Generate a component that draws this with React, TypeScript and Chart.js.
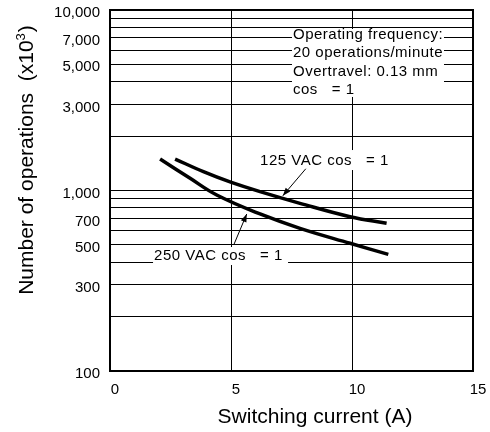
import React, { useEffect, useRef } from "react";
import { Chart, registerables } from "chart.js";

Chart.register(...registerables);

// ---- data ----
const current125 = [2.69, 3.86, 4.96, 6.2, 7.85, 9.92, 11.43];
const ops125 = [1494, 1271, 1115, 985, 849, 716, 658];
const current250 = [2.07, 3.31, 4.41, 6.2, 7.85, 9.92, 11.5];
const ops250 = [1494, 1168, 944, 741, 617, 510, 443];

const yGridValues = [100, 200, 300, 400, 500, 600, 700, 800, 900, 1000, 2000, 3000, 4000, 5000, 6000, 7000, 8000, 9000, 10000];
const yTickLabels = [100, 300, 500, 700, 1000, 3000, 5000, 7000, 10000];
const xTicks = [0, 5, 10, 15];

const noteLines = ["Operating frequency:", "20 operations/minute", "Overtravel: 0.13 mm", "cos   = 1"];
const label125 = "125 VAC cos   = 1";
const label250 = "250 VAC cos   = 1";
const xTitle = "Switching current (A)";
const yTitleMain = "Number of operations  (x10";
const yTitleSup = "3";
const yTitleEnd = ")";

// annotation anchors (data units)
const noteAt = { x: 7.52, y: 7850 };
const label125At = { x: 6.2, y: 1384 };
const arrow125Tip = { x: 7.14, y: 935 };
const label250At = { x: 1.82, y: 412 };
const arrow250Tip = { x: 5.65, y: 741 };

const FONT = "'Liberation Sans', Arial, Helvetica, sans-serif";

function arrow(ctx: CanvasRenderingContext2D, x1: number, y1: number, x2: number, y2: number) {
  ctx.beginPath();
  ctx.moveTo(x1, y1);
  ctx.lineTo(x2, y2);
  ctx.lineWidth = 1;
  ctx.strokeStyle = "#000";
  ctx.stroke();
  const ang = Math.atan2(y2 - y1, x2 - x1);
  const len = 8, w = 3;
  ctx.beginPath();
  ctx.moveTo(x2, y2);
  ctx.lineTo(x2 - len * Math.cos(ang) + w * Math.sin(ang), y2 - len * Math.sin(ang) - w * Math.cos(ang));
  ctx.lineTo(x2 - len * Math.cos(ang) - w * Math.sin(ang), y2 - len * Math.sin(ang) + w * Math.cos(ang));
  ctx.closePath();
  ctx.fillStyle = "#000";
  ctx.fill();
}

const overlay = {
  id: "overlay",
  afterDatasetsDraw(chart: any) {
    const { ctx, chartArea: a, scales } = chart;
    const xs = scales.x, ys = scales.y;
    ctx.save();
    // frame
    ctx.strokeStyle = "#000";
    ctx.lineWidth = 2;
    ctx.strokeRect(a.left, a.top, a.right - a.left, a.bottom - a.top);

    ctx.font = `15px ${FONT}`;
    (ctx as any).letterSpacing = "0.5px";
    ctx.textBaseline = "alphabetic";
    ctx.textAlign = "left";

    // note box
    const nx = xs.getPixelForValue(noteAt.x);
    const ny = ys.getPixelForValue(noteAt.y);
    ctx.fillStyle = "#fff";
    ctx.fillRect(nx, ny, 152, 68);
    ctx.fillStyle = "#000";
    noteLines.forEach((t, i) => ctx.fillText(t, nx + 1, ny + 10 + i * 18.4));

    // 125 label
    const lx1 = xs.getPixelForValue(label125At.x);
    const ly1 = ys.getPixelForValue(label125At.y);
    ctx.fillStyle = "#fff";
    ctx.fillRect(lx1 - 2, ly1 - 15, 130, 20);
    ctx.fillStyle = "#000";
    ctx.fillText(label125, lx1, ly1);
    const t1x = xs.getPixelForValue(arrow125Tip.x);
    const t1y = ys.getPixelForValue(arrow125Tip.y);
    arrow(ctx, t1x + 23, t1y - 27, t1x, t1y);

    // 250 label
    const lx2 = xs.getPixelForValue(label250At.x);
    const ly2 = ys.getPixelForValue(label250At.y);
    ctx.fillStyle = "#fff";
    ctx.fillRect(lx2 - 1, ly2 - 13, 135, 18);
    ctx.fillStyle = "#000";
    ctx.fillText(label250, lx2, ly2);
    const t2x = xs.getPixelForValue(arrow250Tip.x);
    const t2y = ys.getPixelForValue(arrow250Tip.y);
    arrow(ctx, t2x - 13, t2y + 31, t2x, t2y);

    // titles
    (ctx as any).letterSpacing = "0px";
    ctx.fillStyle = "#000";
    ctx.font = `21px ${FONT}`;
    ctx.textAlign = "center";
    ctx.fillText(xTitle, 315, 423);

    // y title rotated
    ctx.save();
    ctx.translate(33, 160);
    ctx.rotate(-Math.PI / 2);
    ctx.textAlign = "left";
    const big = `21px ${FONT}`;
    const small = `13px ${FONT}`;
    ctx.font = big;
    const w1 = ctx.measureText(yTitleMain).width;
    const w3 = ctx.measureText(yTitleEnd).width;
    ctx.font = small;
    const w2 = ctx.measureText(yTitleSup).width;
    const total = w1 + w2 + 1 + w3;
    let cx = -total / 2;
    ctx.font = big;
    ctx.fillText(yTitleMain, cx, 0);
    cx += w1;
    ctx.font = small;
    ctx.fillText(yTitleSup, cx, -8);
    cx += w2 + 1;
    ctx.font = big;
    ctx.fillText(yTitleEnd, cx, 0);
    ctx.restore();

    ctx.restore();
  },
};

export default function App() {
  const ref = useRef<HTMLCanvasElement | null>(null);
  useEffect(() => {
    if (!ref.current) return;
    const chart = new Chart(ref.current, {
      type: "line",
      data: {
        datasets: [
          {
            label: "125 VAC",
            data: current125.map((x, i) => ({ x, y: ops125[i] })),
            borderColor: "#000",
            borderWidth: 3.5,
            pointRadius: 0,
            fill: false,
            tension: 0.4,
          },
          {
            label: "250 VAC",
            data: current250.map((x, i) => ({ x, y: ops250[i] })),
            borderColor: "#000",
            borderWidth: 3.5,
            pointRadius: 0,
            fill: false,
            tension: 0.4,
          },
        ],
      },
      options: {
        animation: false,
        responsive: false,
        maintainAspectRatio: false,
        layout: { padding: { left: 0, right: 17, top: 10, bottom: 0 } },
        plugins: { legend: { display: false }, tooltip: { enabled: false } },
        scales: {
          x: {
            type: "linear",
            min: 0,
            max: 15,
            afterBuildTicks: (s: any) => {
              s.ticks = xTicks.map((v) => ({ value: v }));
            },
            afterFit: (s: any) => {
              s.height = 61;
              s.paddingLeft = 0;
              s.paddingRight = 0;
            },
            grid: { color: "#000", lineWidth: 1, drawTicks: false },
            border: { display: false },
            ticks: {
              color: "#000",
              font: { family: FONT, size: 15 },
              padding: 10,
              labelOffset: 5,
              maxRotation: 0,
              autoSkip: false,
            },
          },
          y: {
            type: "logarithmic",
            min: 100,
            max: 10000,
            afterBuildTicks: (s: any) => {
              s.ticks = yGridValues.map((v) => ({ value: v }));
            },
            afterFit: (s: any) => {
              s.width = 110;
              s.paddingTop = 0;
              s.paddingBottom = 0;
            },
            grid: { color: "#000", lineWidth: 1, drawTicks: false },
            border: { display: false },
            ticks: {
              color: "#000",
              font: { family: FONT, size: 15 },
              padding: 10,
              labelOffset: 3,
              autoSkip: false,
              callback: (v: any) => (yTickLabels.includes(Number(v)) ? Number(v).toLocaleString("en-US") : ""),
            },
          },
        },
      },
      plugins: [overlay],
    } as any);
    return () => chart.destroy();
  }, []);
  return (
    <div style={{ position: "absolute", left: 0, top: 0, width: 490, height: 432, background: "#fff" }}>
      <canvas ref={ref} width={490} height={432} />
    </div>
  );
}
